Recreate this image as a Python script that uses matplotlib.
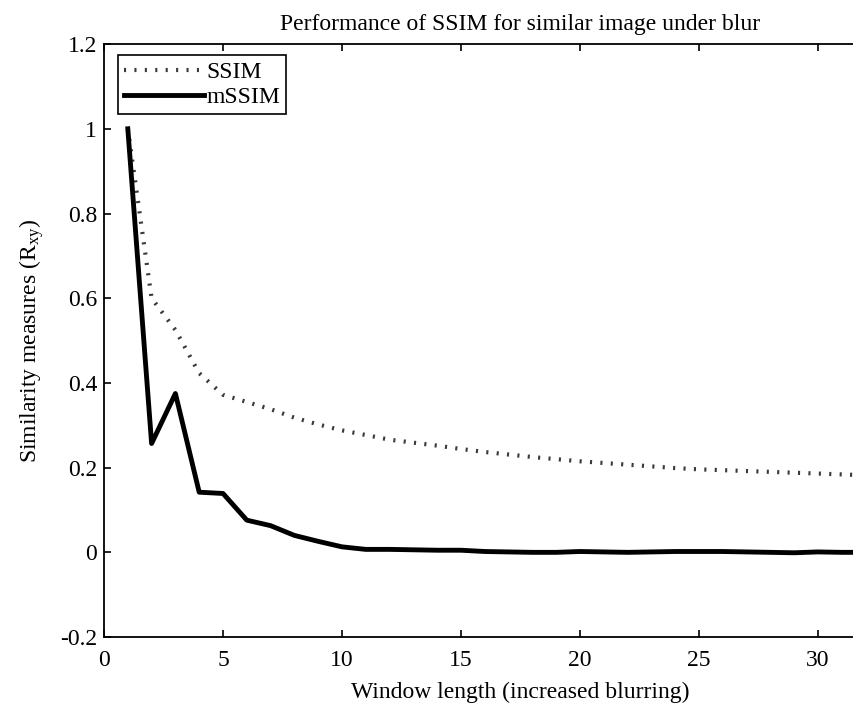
import matplotlib
matplotlib.use("Agg")
import matplotlib.pyplot as plt
from matplotlib.ticker import FuncFormatter

# values
window = list(range(1, 33))
ssim = [1.0, 0.60, 0.525, 0.423, 0.372, 0.355, 0.338, 0.318, 0.302, 0.288,
        0.277, 0.266, 0.259, 0.252, 0.244, 0.237, 0.231, 0.225, 0.220, 0.215,
        0.211, 0.207, 0.203, 0.199, 0.196, 0.194, 0.192, 0.190, 0.188, 0.186,
        0.184, 0.182]
mssim = [1.0, 0.257, 0.375, 0.142, 0.139, 0.076, 0.063, 0.040, 0.026, 0.013,
         0.007, 0.007, 0.006, 0.005, 0.005, 0.002, 0.001, 0.0, 0.0, 0.002,
         0.001, 0.0, 0.001, 0.002, 0.002, 0.002, 0.001, 0.0, -0.001, 0.001,
         0.0, 0.0]

xticks = [0, 5, 10, 15, 20, 25, 30]
yticks = [-0.2, 0, 0.2, 0.4, 0.6, 0.8, 1.0, 1.2]

plt.rcParams["font.family"] = ["Liberation Serif", "DejaVu Serif"]
plt.rcParams["mathtext.default"] = "regular"

fig = plt.figure(figsize=(8.54, 7.11), dpi=100)
ax = fig.add_axes([0.1218, 0.104, 0.9752, 0.834])

ax.plot(window, ssim, color="#3a3a3a", linewidth=3.0, linestyle=(0, (0.5, 2.0)),
        dash_capstyle="butt", label="SSIM")
ax.plot(window, mssim, color="black", linewidth=3.5, label="mSSIM")

ax.set_xlim(0, 35)
ax.set_ylim(-0.2, 1.2)
ax.set_xticks(xticks)
ax.set_yticks(yticks)
ax.yaxis.set_major_formatter(FuncFormatter(lambda v, p: "%g" % round(v, 2)))
ax.tick_params(direction="in", length=5, width=1.2, labelsize=17,
               top=True, right=True)
ax.tick_params(axis="x", pad=9)
ax.tick_params(axis="y", pad=5)
for s in ax.spines.values():
    s.set_linewidth(1.3)

ax.set_title("Performance of SSIM for similar image under blur", fontsize=17, pad=10)
ax.set_xlabel("Window length (increased blurring)", fontsize=17, labelpad=8)
ax.set_ylabel("Similarity measures (R$_{xy}$)", fontsize=17, labelpad=10)

leg = ax.legend(loc="upper left", bbox_to_anchor=(0.0168, 0.981), borderaxespad=0,
                fontsize=17, fancybox=False, framealpha=1, edgecolor="black",
                handlelength=3.4, handletextpad=0.1, borderpad=0.25, labelspacing=0.15)
leg.get_frame().set_linewidth(1.2)

fig.savefig("out.png", dpi=100)
